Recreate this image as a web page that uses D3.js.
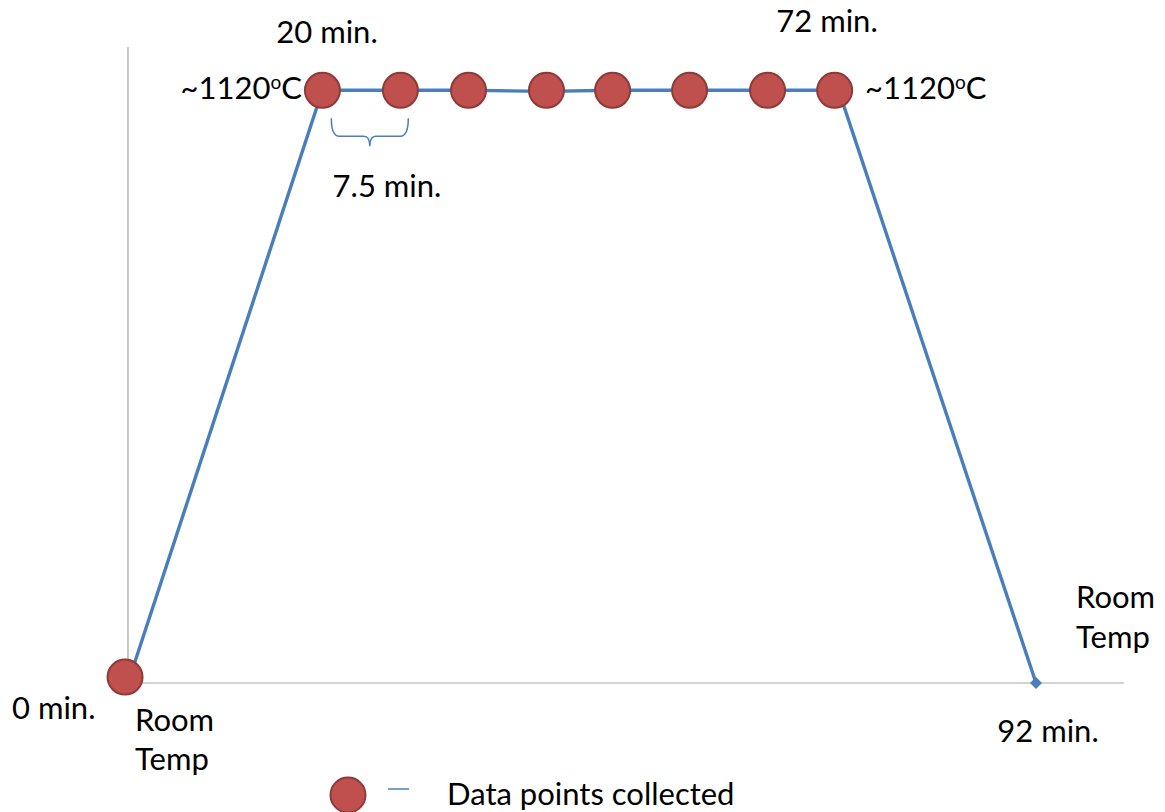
<!DOCTYPE html>
<html><head><meta charset="utf-8">
<script src="https://cdn.jsdelivr.net/npm/d3@7"></script>
<style>
html,body{margin:0;padding:0;background:#fff;}
svg text{font-family:Lato,"Open Sans",sans-serif;fill:#000;}
</style></head>
<body>
<svg id="chart" width="1165" height="812"></svg>
<script>
// ---- data ----
const lineTimes = [0, 19.7, 27.6, 34.5, 42.4, 49.1, 56.9, 64.8, 72.0, 92];
const lineTemps = [25, 1120, 1120, 1120, 1118, 1120, 1120, 1120, 1120, 25];
const markerTimes = [-0.3, 19.7, 27.6, 34.5, 42.4, 49.1, 56.9, 64.8, 71.6];
const markerTemps = [36, 1120, 1120, 1120, 1120, 1120, 1120, 1120, 1120];
const endTime = [92];
const endTemp = [25];
const intervalLabel = "7.5 min.";
const legendLabel = "Data points collected";

const svg = d3.select("#chart");
const x = d3.scaleLinear().domain([0, 92]).range([128, 1036]);
const y = d3.scaleLinear().domain([25, 1200]).range([683, 47]);
const xMax = 100.9; // axis extends past last point

const blue = "#4a7ebb", red = "#c0504d", redDark = "#8c3b39", axisCol = "#a6a6a6";

// axes (no ticks)
svg.append("line").attr("x1", x(0)).attr("x2", x(0)).attr("y1", y(25)).attr("y2", y(1200))
  .attr("stroke", axisCol).attr("stroke-width", 1.2);
svg.append("line").attr("x1", x(0)).attr("x2", x(xMax)).attr("y1", y(25)).attr("y2", y(25))
  .attr("stroke", axisCol).attr("stroke-width", 1.2);

// line series
const pts = lineTimes.map((t, i) => [t, lineTemps[i]]);
svg.append("path").datum(pts)
  .attr("d", d3.line().x(d => x(d[0])).y(d => y(d[1])))
  .attr("fill", "none").attr("stroke", blue).attr("stroke-width", 3.4);

// end diamond (rotated square)
svg.selectAll(".dia").data(endTime).join("path")
  .attr("d", d3.symbol(d3.symbolSquare, 72)())
  .attr("transform", (d, i) => `translate(${x(d)},${y(endTemp[i])}) rotate(45)`)
  .attr("fill", blue);

// markers
svg.selectAll(".mk").data(markerTimes).join("circle")
  .attr("cx", d => x(d)).attr("cy", (d, i) => y(markerTemps[i])).attr("r", 17.5)
  .attr("fill", red).attr("stroke", redDark).attr("stroke-width", 2);

// brace
const bx0 = x(20.6), bx1 = x(28.4), by0 = y(1120) + 28, by1 = by0 + 18, bm = (bx0 + bx1) / 2;
svg.append("path")
  .attr("d", `M${bx0},${by0} Q${bx0},${by1} ${bx0 + 8},${by1} L${bm - 6},${by1} Q${bm},${by1} ${bm},${by1 + 10} Q${bm},${by1} ${bm + 6},${by1} L${bx1 - 8},${by1} Q${bx1},${by1} ${bx1},${by0}`)
  .attr("fill", "none").attr("stroke", blue).attr("stroke-width", 1.5);

const fs = 31;
function txt(str, px, py, anchor) {
  return svg.append("text").attr("x", px).attr("y", py).attr("text-anchor", anchor || "start")
    .attr("font-size", fs).text(str);
}
function tempLabel(px, py, anchor) {
  const t = svg.append("text").attr("x", px).attr("y", py).attr("text-anchor", anchor).attr("font-size", fs);
  t.append("tspan").text("~1120");
  t.append("tspan").attr("font-size", 19).attr("dy", -10).text("o");
  t.append("tspan").attr("dy", 10).text("C");
}

txt("20 min.", 327, 43, "middle");
txt("72 min.", 827, 32, "middle");
tempLabel(302, 99, "end");
tempLabel(865, 99, "start");
txt(intervalLabel, 387, 197, "middle");
txt("0 min.", 12, 719);
txt("Room", 135, 731);
txt("Temp", 135, 770);
txt("Room", 1076, 608);
txt("Temp", 1076, 648);
txt("92 min.", 1048, 742, "middle");

// legend
svg.append("circle").attr("cx", 348).attr("cy", 795).attr("r", 17.5)
  .attr("fill", red).attr("stroke", redDark).attr("stroke-width", 2);
svg.append("line").attr("x1", 388).attr("x2", 409).attr("y1", 789).attr("y2", 789)
  .attr("stroke", blue).attr("stroke-width", 1.5);
txt(legendLabel, 447, 805);
</script>
</body></html>
